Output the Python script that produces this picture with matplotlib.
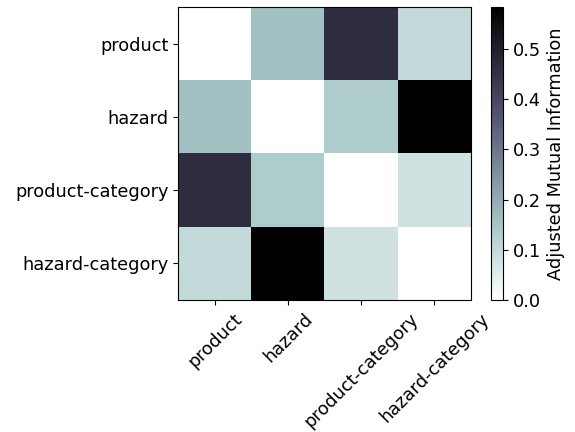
import matplotlib
matplotlib.use("Agg")
import matplotlib.pyplot as plt
import numpy as np

labels = ["product", "hazard", "product-category", "hazard-category"]
row_product = [0.0, 0.158, 0.464, 0.100]
row_hazard = [0.158, 0.0, 0.134, 0.584]
row_product_category = [0.464, 0.134, 0.0, 0.078]
row_hazard_category = [0.100, 0.584, 0.078, 0.0]

data = np.array([row_product, row_hazard, row_product_category, row_hazard_category])

fs = 12.8
fig = plt.figure(figsize=(5.75, 4.32), dpi=100)
ax = fig.add_axes([0.31, 0.306, 0.509, 0.678])
cax = fig.add_axes([0.854, 0.306, 0.021, 0.678])
im = ax.imshow(data, cmap="bone_r", vmin=0, vmax=data.max(), aspect="auto")
ax.set_xticks(range(len(labels)))
ax.set_xticklabels(labels, rotation=45, ha="center", fontsize=fs)
ax.set_yticks(range(len(labels)))
ax.set_yticklabels(labels, fontsize=fs)
cb = fig.colorbar(im, cax=cax)
cb.set_label("Adjusted Mutual Information", fontsize=fs)
cb.ax.tick_params(labelsize=fs)
fig.savefig("out.png", dpi=100)
